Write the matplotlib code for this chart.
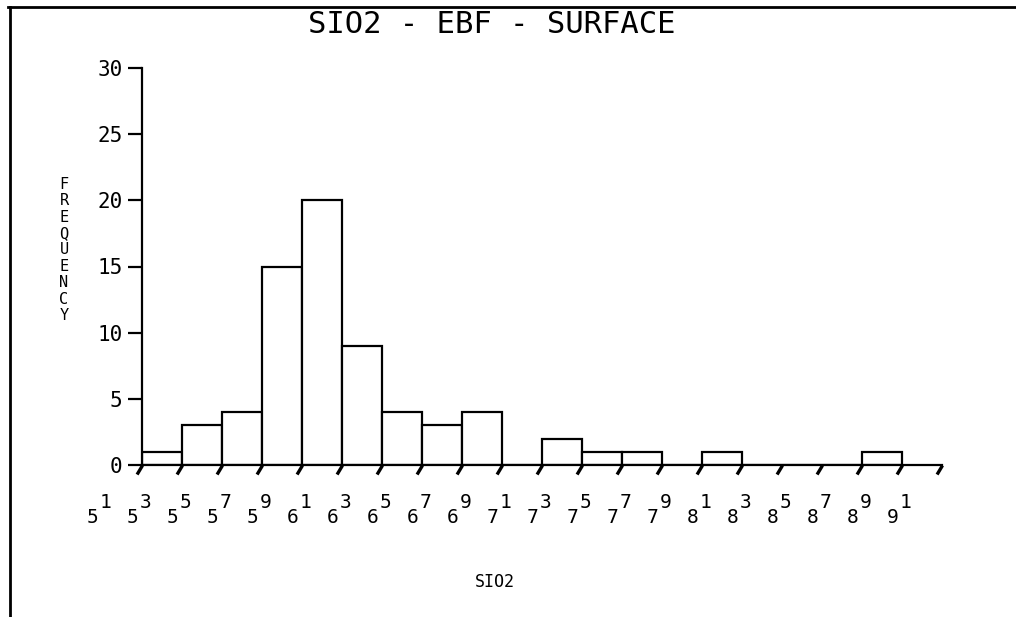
import matplotlib
matplotlib.use('Agg')
import matplotlib.pyplot as plt
from matplotlib.lines import Line2D
from matplotlib.path import Path

plt.rcParams.update({
    'font.family': ['DejaVu Sans Mono', 'DejaVu Sans'],
    'axes.linewidth': 1.6,
})

# histogram of SiO2 values, bins of width 2 starting at 53 (axis runs on to 93)
bin_edges = [53, 55, 57, 59, 61, 63, 65, 67, 69, 71, 73,
             75, 77, 79, 81, 83, 85, 87, 89, 91, 93]
counts = [1, 3, 4, 15, 20, 9, 4, 3, 4, 0, 2, 1, 1, 0, 1, 0, 0, 0, 1]
tick_vals = [51, 53, 55, 57, 59, 61, 63, 65, 67, 69, 71,
             73, 75, 77, 79, 81, 83, 85, 87, 89, 91]
y_ticks = [0, 5, 10, 15, 20, 25, 30]

fig = plt.figure(figsize=(10.16, 6.17), dpi=100)
ax = fig.add_axes([142 / 1016, 1 - 465 / 617, 800 / 1016, 397 / 617])

ax.bar(bin_edges[:len(counts)], counts, width=2, align='edge',
       facecolor='white', edgecolor='black', linewidth=1.6, zorder=2)

ax.set_xlim(bin_edges[0], bin_edges[-1])
ax.set_ylim(0, 30)
ax.spines['top'].set_visible(False)
ax.spines['right'].set_visible(False)

ax.set_yticks(y_ticks)
ax.tick_params(axis='y', direction='out', length=10, width=1.6, pad=4, labelsize=15)
ax.set_xticks([])

# slanted tick marks on the x axis
slash = Path([(0, 0), (-0.6, -1)], [Path.MOVETO, Path.LINETO])
ax.plot(bin_edges, [0] * len(bin_edges), linestyle='none', marker=slash,
        markersize=13, markeredgewidth=2.4, color='black', clip_on=False, zorder=3)

# tick labels like 5^1, 5^3 ... with full size raised second digit
xt = ax.get_xaxis_transform()
for v in tick_vals:
    s = str(v)
    ax.annotate(s[0], (v, 0), xycoords=xt, xytext=(-2.5, -38), textcoords='offset points',
                ha='right', va='center', fontsize=14, annotation_clip=False)
    ax.annotate(s[1], (v, 0), xycoords=xt, xytext=(-1.5, -27), textcoords='offset points',
                ha='left', va='center', fontsize=14, annotation_clip=False)

fig.text(495 / 1016, 1 - 582 / 617, 'SIO2', ha='center', va='center', fontsize=12)
fig.text(64 / 1016, 1 - 250 / 617, '\n'.join('FREQUENCY'), ha='center', va='center',
         fontsize=11, linespacing=1.12)
fig.text(492 / 1016, 1 - 10 / 617, 'SIO2 - EBF - SURFACE', ha='center', va='top',
         fontsize=22)

# page frame (top and left edges only)
fig.add_artist(Line2D([8 / 1016, 1], [1 - 7 / 617, 1 - 7 / 617],
                      transform=fig.transFigure, color='black', linewidth=2))
fig.add_artist(Line2D([10 / 1016, 10 / 1016], [0, 1 - 7 / 617],
                      transform=fig.transFigure, color='black', linewidth=2))

fig.savefig('out.png', dpi=100, facecolor='white')
